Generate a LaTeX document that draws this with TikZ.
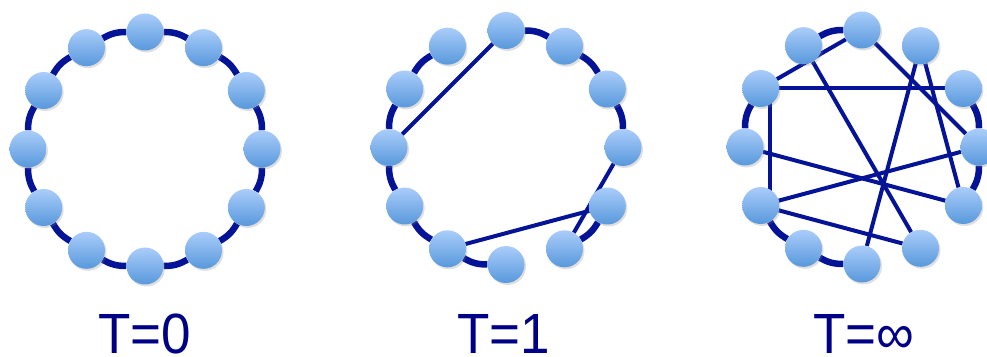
\documentclass[tikz,border=0pt]{standalone}
\usepackage{fontspec}
\setmainfont{Liberation Sans}
\usepackage{tikz}
\usetikzlibrary{shadows,backgrounds}

\definecolor{edgeblue}{RGB}{5,20,150}
\definecolor{nodetop}{RGB}{170,205,250}
\definecolor{nodebot}{RGB}{88,152,220}
\definecolor{labelblue}{RGB}{0,0,135}

\begin{document}
\begin{tikzpicture}[
    x=1pt, y=1pt,
    vert/.style={circle, minimum size=37pt, inner sep=0pt, top color=nodetop, bottom color=nodebot,
        drop shadow={opacity=0.25, shadow xshift=1.5pt, shadow yshift=-2pt}},
    ring/.style={draw=edgeblue, line width=6.5pt, bend left=15},
    chord/.style={draw=edgeblue, line width=4pt},
    tlabel/.style={anchor=base, text=labelblue, inner sep=0pt, text depth=0pt, yscale=1.07,
        font=\fontsize{53}{60}\selectfont}
]
\useasboundingbox (0,0) rectangle (987,356);

% vertices of the three rings
\foreach \p/\cx/\cy in {a/145/207, b/506/208.5, c/862/209}
    \foreach \k in {0,...,11}
        \node[vert] (\p\k) at ({\cx+117*cos(90-30*\k)}, {\cy+117*sin(90-30*\k)}) {};

\begin{scope}[on background layer]
% T=0 : regular ring
\foreach \k [evaluate=\k as \n using {int(mod(\k+1,12))}] in {0,...,11}
    \draw[ring] (a\k) to (a\n);

% T=1 : a few rewired edges
\foreach \i/\j in {0/1, 1/2, 2/3, 4/5, 6/7, 7/8, 8/9, 9/10, 10/11}
    \draw[ring] (b\i) to (b\j);
\draw[chord] (b0) -- (b9);
\draw[chord] (b3) -- (b5);
\draw[chord] (b4) -- (b7);

% T=infinity : random graph
\foreach \i/\j in {11/0, 9/10, 7/8, 6/7, 2/3, 3/4}
    \draw[ring] (c\i) to (c\j);
\draw[chord] (c0) -- (c10);
\draw[chord] (c0) -- (c3);
\draw[chord] (c11) -- (c5);
\draw[chord] (c10) -- (c2);
\draw[chord] ([xshift=9pt]c10.center) -- ([xshift=9pt]c8.center);
\draw[chord] (c1) -- (c6);
\draw[chord] (c1) -- (c4);
\draw[chord] (c9) -- (c4);
\draw[chord] (c8) -- (c3);
\draw[chord] (c8) -- (c5);
\end{scope}

% labels
\node[tlabel] (t0) at (145,3) {T=0};
\node[tlabel] (t1) at (504,3) {T=1};
\node[tlabel] (tinf) at (864,3) {T=∞};
\end{tikzpicture}
\end{document}
